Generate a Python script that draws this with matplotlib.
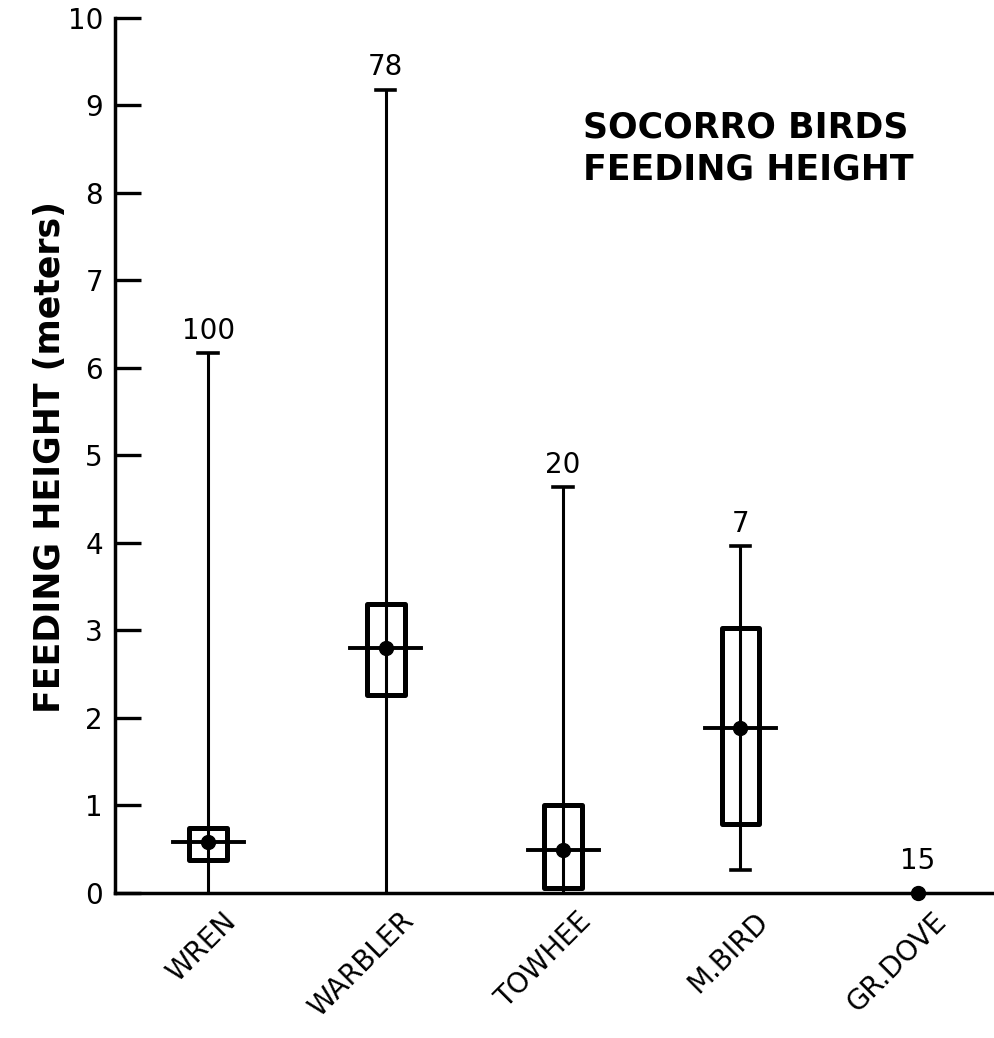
import matplotlib.pyplot as plt
import matplotlib.transforms as mtransforms
from matplotlib.patches import Rectangle

plt.rcParams['font.family'] = ['DejaVu Sans']

# feeding height summary per species [m]
birds = ["WREN", "WARBLER", "TOWHEE", "M.BIRD", "GR.DOVE"]
n_obs = [100, 78, 20, 7, 15]
mean_h = [0.58, 2.80, 0.49, 1.88, 0.0]
box_lo = [0.38, 2.26, 0.06, 0.79, None]
box_hi = [0.74, 3.30, 1.01, 3.03, None]
min_h = [0.0, 0.0, 0.0, 0.26, 0.0]
max_h = [6.17, 9.18, 4.64, 3.96, 0.0]

fig = plt.figure(figsize=(9.95, 10.38), dpi=100)
ax = fig.add_axes([0.116, 0.1397, 0.884, 0.843])

box_half = 0.107  # half width of box
bar_half = 0.20   # half width of mean line
cap_half = 0.056  # half width of whisker caps

for i, b in enumerate(birds):
    if max_h[i] > min_h[i]:
        # whisker
        ax.plot([i, i], [min_h[i], max_h[i]], color="k", lw=2.2,
                solid_capstyle="butt")
        ax.plot([i - cap_half, i + cap_half], [max_h[i], max_h[i]],
                color="k", lw=2.6)
        if min_h[i] > 0:
            ax.plot([i - cap_half, i + cap_half], [min_h[i], min_h[i]],
                    color="k", lw=2.6)
    if box_lo[i] is not None:
        ax.add_patch(Rectangle((i - box_half, box_lo[i]), 2 * box_half,
                               box_hi[i] - box_lo[i], fill=False,
                               ec="k", lw=3.6, joinstyle="round"))
        ax.plot([i - bar_half, i + bar_half], [mean_h[i], mean_h[i]],
                color="k", lw=2.8)
    ax.plot(i, mean_h[i], "o", color="k", ms=10, clip_on=False, zorder=5)
    # sample size above the top
    off = 13 if max_h[i] == 0 else 6
    ax.annotate(str(n_obs[i]), (i, max_h[i]), xytext=(0, off),
                textcoords="offset points", ha="center", va="bottom",
                fontsize=20)

ax.set_xlim(-0.522, 4.434)
ax.set_ylim(0, 10)
ax.set_yticks(range(0, 11))
ax.tick_params(axis="y", direction="in", length=19, width=2.4,
               labelsize=20, pad=9)
ax.set_xticks(range(len(birds)))
ax.set_xticklabels(birds, rotation=45, ha="right", va="top",
                   rotation_mode="anchor", fontsize=20)
ax.tick_params(axis="x", length=0, pad=10)
shift = mtransforms.ScaledTranslation(14 / 100, 0, fig.dpi_scale_trans)
for lab in ax.get_xticklabels():
    lab.set_transform(lab.get_transform() + shift)

for s in ["top", "right"]:
    ax.spines[s].set_visible(False)
ax.spines["left"].set_linewidth(2.5)
ax.spines["bottom"].set_linewidth(2.5)

fig.text(0.05, 0.56, "FEEDING HEIGHT (meters)", rotation=90, ha="center",
         va="center", fontsize=25, fontweight="bold")
fig.text(583 / 995, 1 - 128 / 1038, "SOCORRO BIRDS", ha="left", va="center",
         fontsize=25, fontweight="bold")
fig.text(583 / 995, 1 - 170 / 1038, "FEEDING HEIGHT", ha="left", va="center",
         fontsize=25, fontweight="bold")

fig.savefig("out.png", dpi=100)
